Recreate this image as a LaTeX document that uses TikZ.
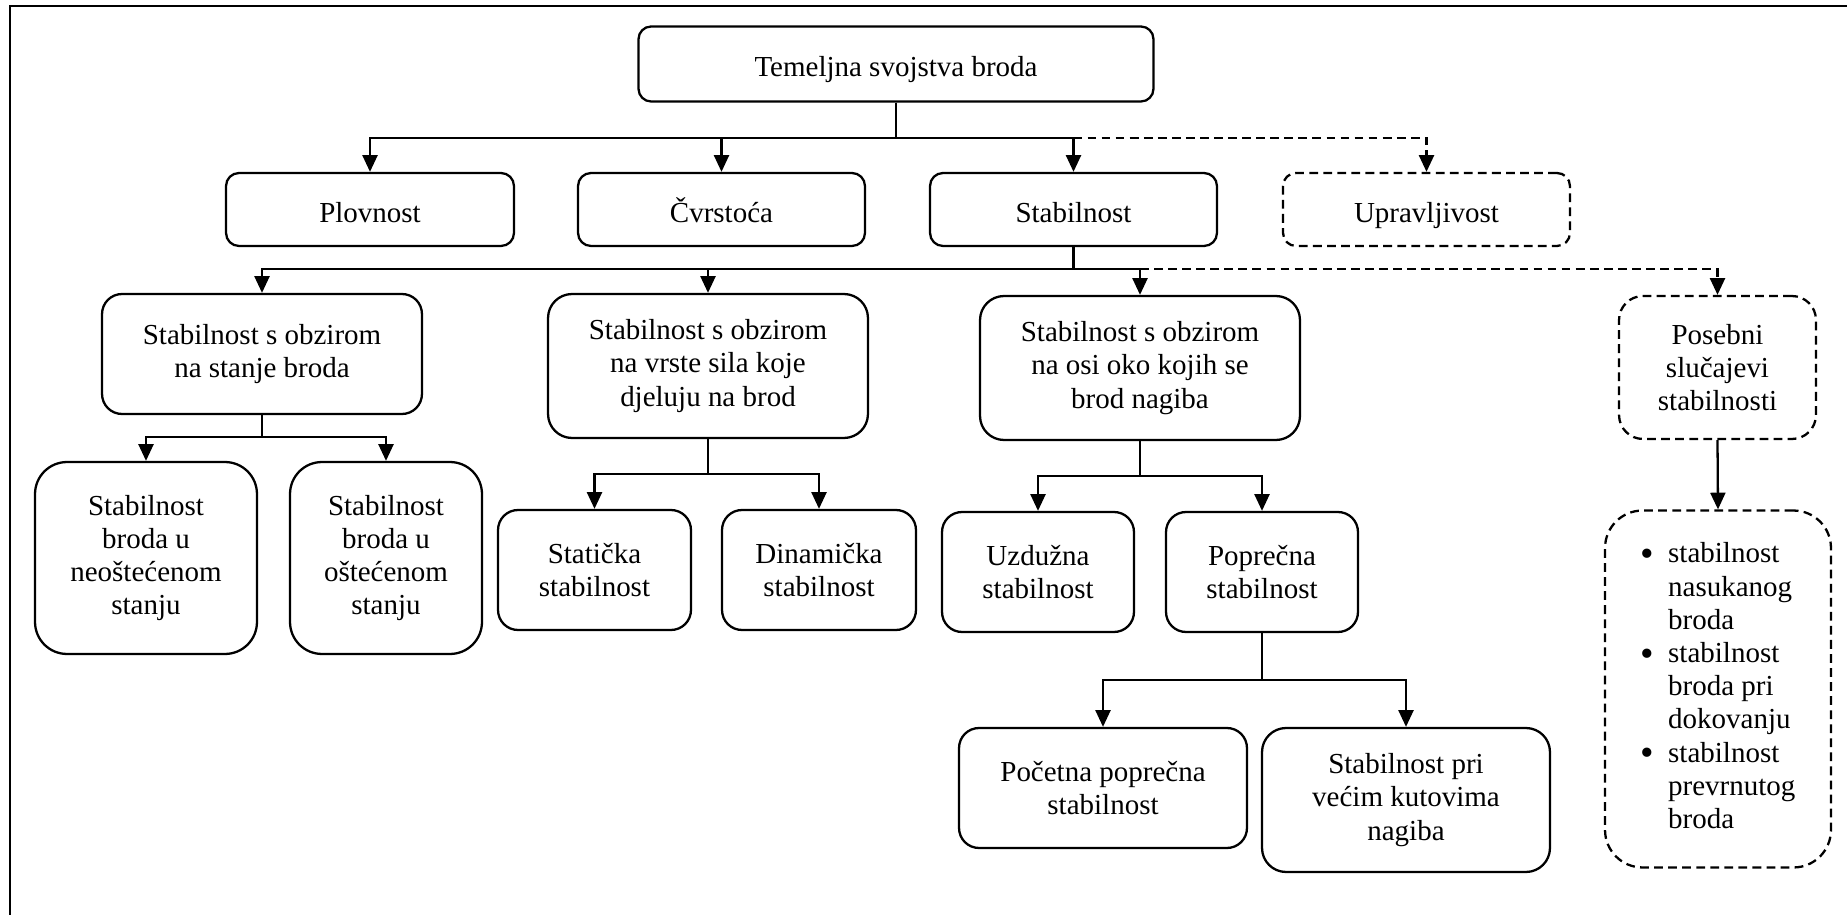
\documentclass[tikz,border=0pt]{standalone}
\usepackage{fontspec}
\setmainfont{Liberation Serif}
\usetikzlibrary{arrows.meta}
\newcommand{\bigbul}{\raisebox{-2.2pt}{\fontsize{22}{0}\selectfont\textbullet}}
\begin{document}
\begin{tikzpicture}[x=0.02cm,y=-0.02cm,
  box/.style={draw, line width=1.3pt, rounded corners=#1, align=center, inner sep=0pt,
    font=\fontsize{16.5}{18.9}\selectfont},
  box/.default=0.4cm,
  dbox/.style={box=#1, dash pattern=on 5pt off 3pt},
  one/.style={text height=15pt, text depth=0pt},
  arr/.style={line width=1.3pt, -{Triangle[length=9.5pt,width=8.5pt]}},
  darr/.style={arr, dash pattern=on 5pt off 3pt},
  frame/.style={line width=1.2pt}
]
\useasboundingbox (0,0) rectangle (1847,915);
\coordinate (fbl) at (10,915);
\coordinate (fcorner) at (10,6);
\coordinate (ftr) at (1847,6);
\draw[frame] (fbl) -- (fcorner) -- (ftr);

% level 1
\node[box=0.25cm, one, text height=14pt, minimum width=10.3cm, minimum height=1.5cm] (top) at (896,64) {Temeljna svojstva broda};
% level 2
\node[box=0.26cm, one, minimum width=5.76cm, minimum height=1.46cm] (plov) at (370,209.5) {Plovnost};
\node[box=0.26cm, one, minimum width=5.74cm, minimum height=1.46cm] (cvrs) at (721.5,209.5) {Čvrstoća};
\node[box=0.26cm, one, minimum width=5.74cm, minimum height=1.46cm] (stab) at (1073.5,209.5) {Stabilnost};
\node[dbox=0.26cm, one, minimum width=5.74cm, minimum height=1.46cm] (uprav) at (1426.5,209.5) {Upravljivost};
% level 3
\node[box=0.4cm, minimum width=6.4cm, minimum height=2.4cm] (n1) at (262,354) {Stabilnost s obzirom\\na stanje broda};
\node[box=0.48cm, minimum width=6.4cm, minimum height=2.88cm] (n2) at (708,366) {Stabilnost s obzirom\\na vrste sila koje\\djeluju na brod};
\node[box=0.48cm, minimum width=6.4cm, minimum height=2.88cm] (n3) at (1140,368) {Stabilnost s obzirom\\na osi oko kojih se\\brod nagiba};
\node[dbox=0.48cm, minimum width=3.94cm, minimum height=2.86cm] (pos) at (1717.5,367.5) {Posebni\\slučajevi\\stabilnosti};
% level 4
\node[box=0.64cm, minimum width=4.44cm, minimum height=3.84cm] (A) at (146,558) {Stabilnost\\broda u\\neoštećenom\\stanju};
\node[box=0.64cm, minimum width=3.84cm, minimum height=3.84cm] (B) at (386,558) {Stabilnost\\broda u\\oštećenom\\stanju};
\node[box=0.4cm, minimum width=3.86cm, minimum height=2.4cm] (C) at (594.5,570) {Statička\\stabilnost};
\node[box=0.4cm, minimum width=3.88cm, minimum height=2.4cm] (D) at (819,570) {Dinamička\\stabilnost};
\node[box=0.4cm, minimum width=3.84cm, minimum height=2.4cm] (E) at (1038,572) {Uzdužna\\stabilnost};
\node[box=0.4cm, minimum width=3.84cm, minimum height=2.4cm] (F) at (1262,572) {Poprečna\\stabilnost};
\node[box=0.4cm, minimum width=5.76cm, minimum height=2.4cm] (G) at (1103,788) {Početna poprečna\\stabilnost};
\node[box=0.48cm, minimum width=5.76cm, minimum height=2.88cm] (H) at (1406,800) {Stabilnost pri\\većim kutovima\\nagiba};
\node[dbox=0.75cm, minimum width=4.52cm, minimum height=7.14cm] (bul) at (1718,689)
  {\begin{tabular}{@{}l@{\hspace{8pt}}l@{}}
   \bigbul & stabilnost\\ & nasukanog\\ & broda\\
   \bigbul & stabilnost\\ & broda pri\\ & dokovanju\\
   \bigbul & stabilnost\\ & prevrnutog\\ & broda
   \end{tabular}};

% bus coordinates
\coordinate (b1) at (896,138);
\coordinate (b2) at (1073.5,269);
\coordinate (b3) at (262,437);
\coordinate (b4) at (708,474);
\coordinate (b5) at (1140,476);
\coordinate (b6) at (1262,680);

% connectors
\draw[arr] (top.south) |- (plov |- b1) -- (plov.north);
\draw[arr] (top.south) |- (cvrs |- b1) -- (cvrs.north);
\draw[arr] (top.south) |- (stab |- b1) -- (stab.north);
\draw[darr] (stab |- b1) -- (uprav |- b1) -- (uprav.north);

\draw[arr] (stab.south) |- (n1 |- b2) -- (n1.north);
\draw[arr] (stab.south) |- (n2 |- b2) -- (n2.north);
\draw[arr] (stab.south) |- (n3 |- b2) -- (n3.north);
\draw[darr] (n3 |- b2) -- (pos |- b2) -- (pos.north);

\draw[arr] (n1.south) |- (A |- b3) -- (A.north);
\draw[arr] (n1.south) |- (B |- b3) -- (B.north);
\draw[arr] (n2.south) |- (C |- b4) -- (C.north);
\draw[arr] (n2.south) |- (D |- b4) -- (D.north);
\draw[arr] (n3.south) |- (E |- b5) -- (E.north);
\draw[arr] (n3.south) |- (F |- b5) -- (F.north);
\draw[arr] (F.south) |- (G |- b6) -- (G.north);
\draw[arr] (F.south) |- (H |- b6) -- (H.north);
\draw[arr] (pos.south) -- (bul.north);
\end{tikzpicture}
\end{document}
